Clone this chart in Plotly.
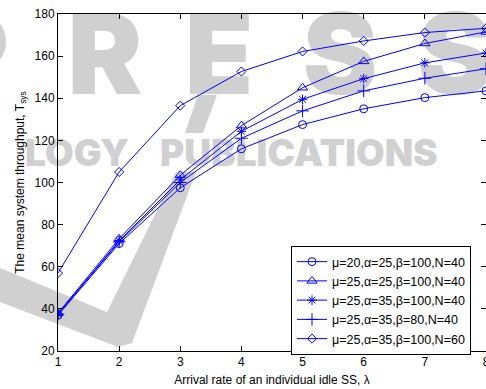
import plotly.graph_objects as go

# ---- data ----
lam = [1, 2, 3, 4, 5, 6, 7, 8]
s_mu20_a25_b100_n40 = [37, 71, 97.5, 116, 127.5, 135, 140.3, 143.5]
s_mu25_a25_b100_n40 = [38, 73.3, 103.5, 127, 145, 157.5, 166, 171.5]
s_mu25_a35_b100_n40 = [37.5, 72.3, 101.3, 124.3, 139.5, 149.3, 156.8, 161.5]
s_mu25_a35_b80_n40 = [37.5, 71.8, 100, 121, 134, 143.5, 149.5, 154]
s_mu25_a35_b100_n60 = [57, 105, 136.5, 152.7, 162.2, 167.2, 171.2, 173.2]

names = ["μ=20,α=25,β=100,N=40", "μ=25,α=25,β=100,N=40", "μ=25,α=35,β=100,N=40",
         "μ=25,α=35,β=80,N=40", "μ=25,α=35,β=100,N=60"]
series = [s_mu20_a25_b100_n40, s_mu25_a25_b100_n40, s_mu25_a35_b100_n40,
          s_mu25_a35_b80_n40, s_mu25_a35_b100_n60]
symbols = ["circle-open", "triangle-up-open", "asterisk-open", "cross-thin-open", "diamond-open"]
sizes = [8, 9, 8, 9, 7]

W, H = 486, 389
L, R, T, B = 58, 0, 14, 38
BLUE = "#0000ff"
FONT = "Arial, Liberation Sans, sans-serif"
WM = "#d0d0d0"
WMFONT = "Inter, Lato, Roboto, DejaVu Sans, sans-serif"

fig = go.Figure()
for nm, ys, sym, sz in zip(names, series, symbols, sizes):
    fig.add_trace(go.Scatter(
        x=lam, y=ys, name=nm, mode="lines+markers",
        line=dict(color=BLUE, width=1),
        marker=dict(symbol=sym, size=sz, color=BLUE, line=dict(color=BLUE, width=1)),
    ))

# ---- watermark (background, pixel -> paper conversion) ----
pw, ph = W - L - R, H - T - B
def px(x):
    return (x - L) / pw
def py(y):
    return (H - B - y) / ph

shapes = []
def label_box(txt, x0, x1, y0, y1, size, pos="middle center"):
    shapes.append(dict(type="rect", xref="paper", yref="paper", layer="below",
                       x0=px(x0), x1=px(x1), y0=py(y1), y1=py(y0),
                       line=dict(width=0), fillcolor="rgba(0,0,0,0)",
                       label=dict(text=txt, textposition=pos, padding=0,
                                  font=dict(family=WMFONT, size=size, color=WM,
                                            weight=900))))

for t, cx in [("P", -28), ("R", 105), ("E", 219), ("S", 340), ("S", 455)]:
    label_box(t, cx - 60, cx + 60, 0, 100, 112)
label_box("LOGY", -40, 132, 133, 169, 37, "middle right")
label_box("PUBLICATIONS", 157, 600, 133, 169, 37, "middle left")

def path(pts):
    d = "M " + " L ".join(f"{px(a):.4f},{py(b):.4f}" for a, b in pts) + " Z"
    return dict(type="path", xref="paper", yref="paper", layer="below", path=d,
                fillcolor=WM, line=dict(width=0))

shapes.append(path([(198, 95), (217, 95), (203, 133), (185, 133)]))
shapes.append(path([(0, 268), (107, 312), (176, 172), (196, 172), (132, 343),
                    (118, 347), (0, 302)]))

axis_common = dict(showline=True, linecolor="black", linewidth=1, mirror="ticks",
                   ticks="inside", ticklen=5, tickcolor="black", showgrid=False,
                   zeroline=False, tickfont=dict(family=FONT, size=12, color="black"),
                   automargin=False)

fig.update_layout(
    width=W, height=H,
    margin=dict(l=L, r=R, t=T, b=B, autoexpand=False),
    paper_bgcolor="white", plot_bgcolor="rgba(0,0,0,0)",
    font=dict(family=FONT, size=12, color="black"),
    shapes=shapes,
    xaxis=dict(range=[1, 8], dtick=1, tick0=1, ticklabeloverflow="allow",
               title=dict(text="Arrival rate of an individual idle SS, λ",
                          font=dict(family=FONT, size=12), standoff=7),
               **axis_common),
    yaxis=dict(range=[20, 180], dtick=20, tick0=20,
               title=dict(text="The mean system throughput, T<sub>sys</sub>",
                          font=dict(family=FONT, size=12), standoff=7),
               **axis_common),
    showlegend=True,
    legend=dict(x=px(291), y=py(246), xanchor="left", yanchor="top",
                bgcolor="white", bordercolor="black", borderwidth=1,
                font=dict(family=FONT, size=12.5, color="black"),
                tracegroupgap=0, itemwidth=30),
)

fig.write_html("out.html")
